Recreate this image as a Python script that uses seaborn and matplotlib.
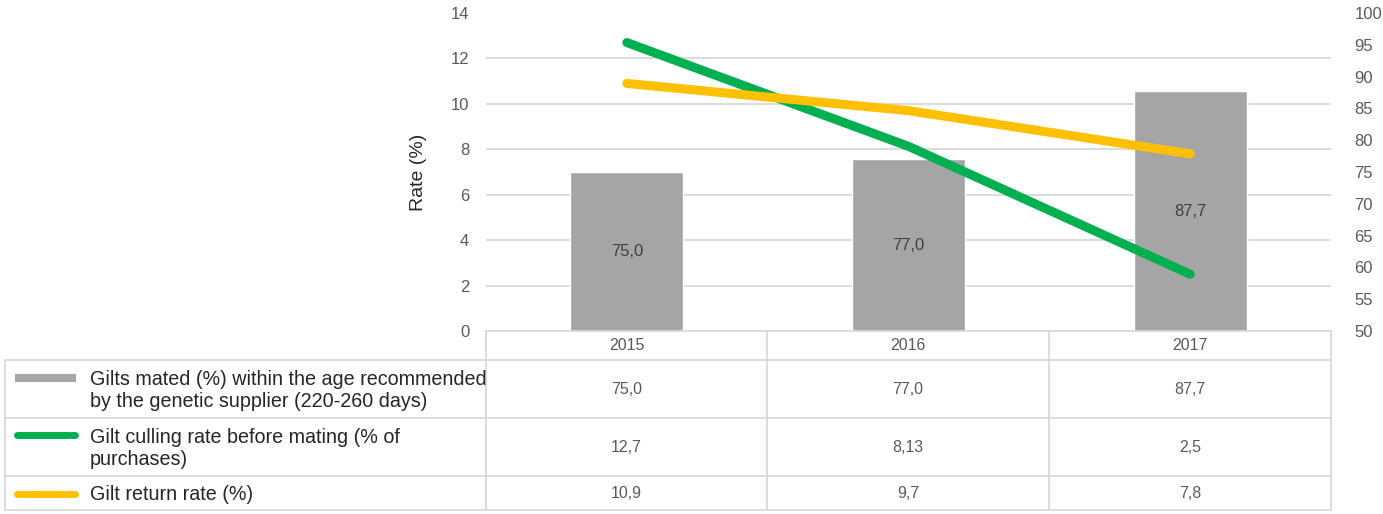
import matplotlib
matplotlib.use("Agg")
import matplotlib.pyplot as plt
import seaborn as sns
import pandas as pd
import numpy as np
from matplotlib.patches import Rectangle
from matplotlib.lines import Line2D
from matplotlib.ticker import FixedLocator

# ---------------- data ----------------
years = ["2015", "2016", "2017"]
mated = [75.0, 77.0, 87.7]
culling = [12.7, 8.13, 2.5]
returns = [10.9, 9.7, 7.8]
mated_labels = ["75,0", "77,0", "87,7"]
culling_labels = ["12,7", "8,13", "2,5"]
return_labels = ["10,9", "9,7", "7,8"]
series_names = [
    "Gilts mated (%) within the age recommended\nby the genetic supplier (220-260 days)",
    "Gilt culling rate before mating (% of\npurchases)",
    "Gilt return rate (%)",
]
left_ticks = [0, 2, 4, 6, 8, 10, 12, 14]
right_ticks = [50, 55, 60, 65, 70, 75, 80, 85, 90, 95, 100]
y_label = "Rate (%)"

GRAY = "#a5a5a5"
GREEN = "#00b050"
YELLOW = "#ffc000"
GRID = "#d9d9d9"
TXT = "#595959"

sns.set_theme(style="white")
NUMFONT = ["Liberation Sans", "DejaVu Sans"]
LBLFONT = ["Liberation Sans", "DejaVu Sans"]
plt.rcParams["font.family"] = NUMFONT
NUMSIZE = 11.5

W, H = 1383, 514
fig = plt.figure(figsize=(W / 100, H / 100), dpi=100)
fig.patch.set_facecolor("white")

L, R, T, B = 486, 1331, 13, 331
ax = fig.add_axes([L / W, 1 - B / H, (R - L) / W, (B - T) / H])

df = pd.DataFrame({"year": years, "mated": mated, "culling": culling, "returns": returns})
df["pos"] = np.arange(len(years))

r_lo, r_hi = right_ticks[0], right_ticks[-1]
l_lo, l_hi = left_ticks[0], left_ticks[-1]

# bars on the right-hand scale (50-100)
sns.barplot(data=df, x="year", y="mated", color=GRAY, saturation=1, width=0.4, ax=ax)
ax.set_ylim(r_lo, r_hi)
ax.set_xlim(-0.5, len(years) - 0.5)
ax.set_yticks(right_ticks)
# gridlines follow the left-hand (primary) scale, drawn behind the bars
grid_pos = [r_lo + (t - l_lo) * (r_hi - r_lo) / (l_hi - l_lo) for t in left_ticks]
ax.yaxis.set_minor_locator(FixedLocator(grid_pos))
ax.grid(axis="y", which="minor", color=GRID, lw=1.3)
ax.grid(axis="y", which="major", visible=False)
ax.set_axisbelow(True)
ax.set_xticks([])
ax.set_xlabel("")
ax.set_ylabel("")
for s in ax.spines.values():
    s.set_visible(False)
for i, (v, lab) in enumerate(zip(mated, mated_labels)):
    ax.text(i, (r_lo + v) / 2, lab, ha="center", va="center", fontsize=NUMSIZE + 0.5, color="#404040")

# lines on the left-hand scale (0-14)
ax2 = ax.twinx()
sns.lineplot(data=df, x="pos", y="culling", color=GREEN, lw=6.5, solid_capstyle="round", ax=ax2)
sns.lineplot(data=df, x="pos", y="returns", color=YELLOW, lw=6.5, solid_capstyle="round", ax=ax2)
ax2.set_ylim(l_lo, l_hi)
ax2.set_xlim(-0.5, len(years) - 0.5)
ax2.set_yticks(left_ticks)
ax2.yaxis.tick_left()
ax2.yaxis.set_label_position("left")
ax2.tick_params(axis="y", length=0, pad=12, labelsize=NUMSIZE + 0.5, labelcolor=TXT)
ax2.set_xticks([])
ax2.set_xlabel("")
ax2.set_ylabel(y_label, fontsize=14, color="#262626", family=LBLFONT, labelpad=17)
for s in ax2.spines.values():
    s.set_visible(False)

# right ticks for the bar axis (after twinx, which resets them)
ax.yaxis.tick_right()
ax.tick_params(axis="y", which="both", left=False, right=False, labelleft=False, labelright=True,
               pad=11, labelsize=NUMSIZE + 0.5, labelcolor=TXT)
ax.tick_params(axis="y", which="minor", labelright=False)

# ---------------- data table ----------------
ov = fig.add_axes([0, 0, 1, 1])
ov.set_xlim(0, W)
ov.set_ylim(H, 0)
ov.axis("off")

col_edges = [486, 767, 1049, 1331]
row_edges = [360, 418, 476, 510]
LW = 1.3

ov.add_line(Line2D([486, 1331], [331, 331], color=GRID, lw=LW))
for y in row_edges:
    ov.add_line(Line2D([5, 1331], [y, y], color=GRID, lw=LW))
ov.add_line(Line2D([5, 5], [360, 510], color=GRID, lw=LW))
for x in col_edges:
    ov.add_line(Line2D([x, x], [331, 510], color=GRID, lw=LW))

centers = [(col_edges[i] + col_edges[i + 1]) / 2 for i in range(len(years))]
for cx, yr in zip(centers, years):
    ov.text(cx, 346, yr, ha="center", va="center", fontsize=NUMSIZE, color=TXT)

row_mid = [(row_edges[i] + row_edges[i + 1]) / 2 for i in range(3)]
row_vals = [mated_labels, culling_labels, return_labels]
for ry, vals in zip(row_mid, row_vals):
    for cx, v in zip(centers, vals):
        ov.text(cx, ry, v, ha="center", va="center", fontsize=NUMSIZE, color=TXT)

for ry, name in zip(row_mid, series_names):
    ov.text(90, ry + 1.5, name, ha="left", va="center", fontsize=14.2, color="#262626",
            family=LBLFONT, linespacing=1.2)

# legend keys
ov.add_patch(Rectangle((15, 374), 61, 8, color=GRAY, lw=0))
ov.add_line(Line2D([17, 75], [435, 435], color=GREEN, lw=5, solid_capstyle="round"))
ov.add_line(Line2D([17, 75], [494, 494], color=YELLOW, lw=5, solid_capstyle="round"))

fig.savefig("out.png", dpi=100, facecolor="white")
